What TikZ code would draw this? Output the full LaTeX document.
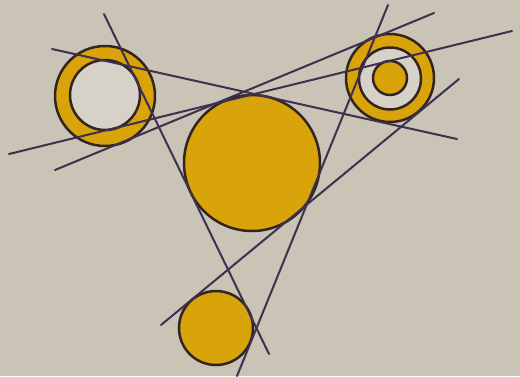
\documentclass[tikz,border=0pt]{standalone}
\begin{document}
\begin{tikzpicture}[x=1pt,y=-1pt]
\definecolor{bg}{RGB}{201,196,182}
\definecolor{gold}{RGB}{216,164,10}
\definecolor{pale}{RGB}{214,210,200}
\definecolor{rim}{RGB}{52,36,33}
\definecolor{ink}{RGB}{62,48,78}
\tikzset{
  disc/.style={circle, draw=rim, line width=2.5pt, fill=gold, inner sep=0pt},
  hole/.style={circle, draw=rim, line width=2.5pt, fill=pale, inner sep=0pt},
  tangent/.style={draw=ink, line width=2pt, line cap=round}
}
\fill[bg] (0,0) rectangle (520,376);
\useasboundingbox (0,0) rectangle (520,376);
% top-left annulus
\node[disc, minimum size=100pt] (tlo) at (105,96) {};
\node[hole, minimum size=70pt] (tli) at (105,95) {};
% top-right target
\node[disc, minimum size=88pt] (tro) at (390,78) {};
\node[hole, minimum size=62pt] (trm) at (390,78.5) {};
\node[disc, minimum size=34pt] (tri) at (390,78) {};
% big centre disc
\node[disc, minimum size=136pt] (big) at (252,163) {};
% bottom disc
\node[disc, minimum size=74pt] (bot) at (216,328) {};
% line end points
\coordinate (a1) at (104,14);  \coordinate (a2) at (269,354);
\coordinate (b1) at (459,79);  \coordinate (b2) at (161,325);
\coordinate (c1) at (388,5);   \coordinate (c2) at (237,376);
\coordinate (d1) at (52,49);   \coordinate (d2) at (457,139);
\coordinate (e1) at (9,154);   \coordinate (e2) at (512,31);
\coordinate (f1) at (55,170);  \coordinate (f2) at (434,13);
\draw[tangent] (a1) -- (a2);
\draw[tangent] (b1) -- (b2);
\draw[tangent] (c1) -- (c2);
\draw[tangent] (d1) -- (d2);
\draw[tangent] (e1) -- (e2);
\draw[tangent] (f1) -- (f2);
\end{tikzpicture}
\end{document}
